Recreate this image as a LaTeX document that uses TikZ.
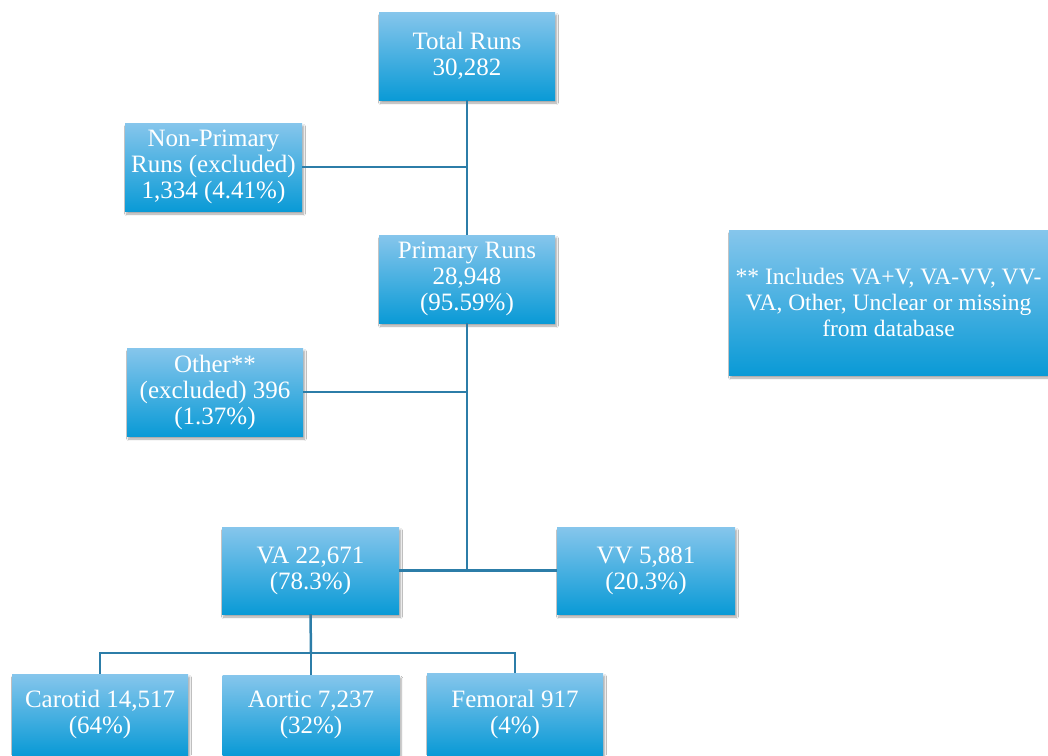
\documentclass[tikz,border=0pt]{standalone}
\usepackage{fontspec}
\setmainfont{Liberation Serif}
\usetikzlibrary{shadows.blur}
\definecolor{boxtop}{HTML}{86C6EC}
\definecolor{boxbot}{HTML}{0A9AD6}
\definecolor{linec}{HTML}{2C7DA8}
\tikzset{
  box/.style={rectangle, inner sep=0pt, align=center, text=white,
    top color=boxtop, bottom color=boxbot, draw=none,
    font=\fontsize{25}{26}\selectfont,
    blur shadow={shadow blur steps=6, shadow xshift=1.5pt, shadow yshift=-3pt, shadow opacity=35}},
  conn/.style={draw=linec, line width=2.5pt}
}
\begin{document}
\begin{tikzpicture}[x=1pt,y=-1pt]
\clip (0,0) rectangle (1048,755);
\fill[white] (0,0) rectangle (1048,755);
\node[box, minimum width=176pt, minimum height=88pt] (total) at (467,56) {Total Runs\\30,282};
\node[box, minimum width=177pt, minimum height=88pt] (nonprim) at (213.5,167) {Non-Primary\\Runs (excluded)\\1,334 (4.41\%)};
\node[box, minimum width=176pt, minimum height=88pt] (prim) at (467,279) {Primary Runs\\28,948\\(95.59\%)};
\node[box, minimum width=176pt, minimum height=88pt] (other) at (215,392) {Other**\\(excluded) 396\\(1.37\%)};
\node[box, minimum width=319pt, minimum height=145pt, font=\fontsize{23.5}{26}\selectfont] (note) at (888.5,302.5) {** Includes VA+V, VA-VV, VV-\\VA, Other, Unclear or missing\\from database};
\node[box, minimum width=177pt, minimum height=87pt] (va) at (310.5,570.5) {VA 22,671\\(78.3\%)};
\node[box, minimum width=178pt, minimum height=87pt] (vv) at (646,570.5) {VV 5,881\\(20.3\%)};
\node[box, minimum width=176pt, minimum height=81pt] (carotid) at (100,714.5) {Carotid 14,517\\(64\%)};
\node[box, minimum width=177pt, minimum height=80pt] (aortic) at (311,715) {Aortic 7,237\\(32\%)};
\node[box, minimum width=176pt, minimum height=82pt] (femoral) at (515,714) {Femoral 917\\(4\%)};
\coordinate (split) at (311,653);
\draw[conn] (total.south) -- (prim.north);
\draw[conn] (nonprim.east) -- (nonprim.east -| total.south);
\draw[conn] (other.east) -- (other.east -| prim.south);
\draw[conn] (prim.south) -- (prim.south |- va.east);
\draw[conn] (va.east) -- (vv.west);
\draw[conn] (va.south) -- (split);
\draw[conn] (carotid.north) |- (split) -| (femoral.north);
\draw[conn] (split) -- (aortic.north);
\end{tikzpicture}
\end{document}
